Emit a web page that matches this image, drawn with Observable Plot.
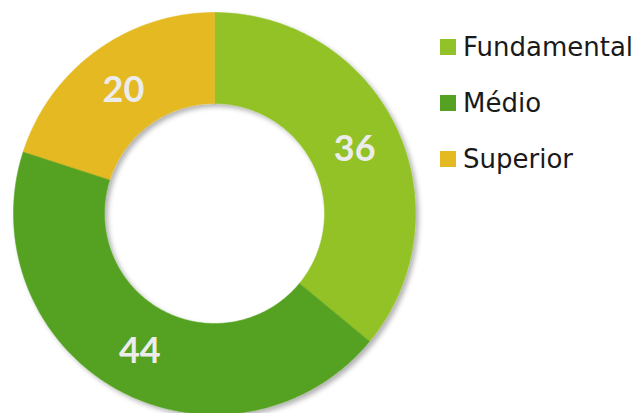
<!DOCTYPE html>
<html>
<head>
<meta charset="utf-8">
<script src="https://cdn.jsdelivr.net/npm/d3@7"></script>
<script src="https://cdn.jsdelivr.net/npm/@observablehq/plot@0.6"></script>
<style>
  html, body { margin: 0; padding: 0; background: #fff; }
  #wrap { position: relative; width: 643px; height: 413px; overflow: hidden; }
  #legend { position: absolute; left: 440px; top: 31px; font-family: "DejaVu Sans", sans-serif; font-size: 26px; color: #1a1a1a; }
  .row { display: flex; align-items: center; height: 32px; margin-bottom: 24px; }
  .sw { width: 16px; height: 16px; margin-right: 7px; }
</style>
</head>
<body>
<div id="wrap"><div id="legend"></div></div>
<script>
const categories = ["Fundamental", "Médio", "Superior"];
const values = [36, 44, 20];
const colors = ["#92c227", "#55a222", "#e5b921"];

const innerRatio = 110 / 201;
const labelRatio = 155 / 201;

const pie = d3.pie().sort(null).value(d => d.value);
const arcs = pie(categories.map((c, i) => ({category: c, value: values[i], color: colors[i]})));

// polygon points of each slice, computed from the pie angles
const polys = arcs.map(a => {
  const pts = [];
  const n = Math.max(8, Math.ceil((a.endAngle - a.startAngle) * 80));
  for (let k = 0; k <= n; k++) {
    const t = a.startAngle + (a.endAngle - a.startAngle) * k / n;
    pts.push({x: Math.sin(t), y: -Math.cos(t), category: a.data.category});
  }
  for (let k = n; k >= 0; k--) {
    const t = a.startAngle + (a.endAngle - a.startAngle) * k / n;
    pts.push({x: innerRatio * Math.sin(t), y: -innerRatio * Math.cos(t), category: a.data.category});
  }
  return {color: a.data.color, pts};
});

const labels = arcs.map(a => {
  const m = (a.startAngle + a.endAngle) / 2;
  return {x: labelRatio * Math.sin(m), y: -labelRatio * Math.cos(m), text: String(a.data.value)};
});

const plot = Plot.plot({
  width: 643,
  height: 413,
  margin: 0,
  x: {domain: [-1, 1], range: [13, 415], axis: null},
  y: {domain: [-1, 1], range: [12, 414], axis: null},
  marks: [
    ...polys.map(p => Plot.line(p.pts, {x: "x", y: "y", fill: p.color, stroke: p.color, strokeWidth: 0.5, curve: "linear-closed", className: "slice"})),
    Plot.text(labels, {x: "x", y: "y", text: "text", fill: "#ececec", fontSize: 36, fontWeight: "bold", fontFamily: "Lato, sans-serif", dy: 2})
  ]
});

// drop shadow on the whole ring
const svg = d3.select(plot);
const defs = svg.insert("defs", ":first-child");
const f = defs.append("filter").attr("id", "sh").attr("x", "-10%").attr("y", "-10%").attr("width", "130%").attr("height", "130%");
f.append("feDropShadow").attr("dx", 3).attr("dy", 3).attr("stdDeviation", 2.5).attr("flood-color", "#000").attr("flood-opacity", 0.3);
const slices = svg.selectAll("g.slice").nodes();
if (slices.length) {
  const ring = document.createElementNS("http://www.w3.org/2000/svg", "g");
  ring.setAttribute("filter", "url(#sh)");
  slices[0].parentNode.insertBefore(ring, slices[0]);
  slices.forEach(s => ring.appendChild(s));
}

document.getElementById("wrap").prepend(plot);
plot.style.position = "absolute";
plot.style.left = "0";
plot.style.top = "0";

const legend = d3.select("#legend");
categories.forEach((c, i) => {
  const r = legend.append("div").attr("class", "row");
  r.append("div").attr("class", "sw").style("background", colors[i]);
  r.append("span").text(c);
});
document.getElementById("legend").style.zIndex = 2;
</script>
</body>
</html>
